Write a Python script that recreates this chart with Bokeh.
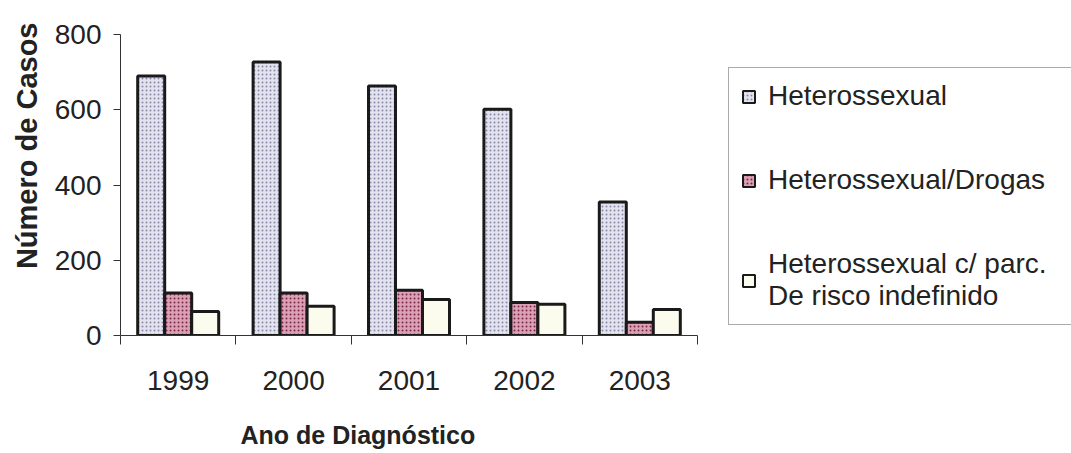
from bokeh.plotting import figure
from bokeh.layouts import row
from bokeh.models import (Range1d, FixedTicker, LinearAxis, Title, Legend, LegendItem,
                          ColumnDataSource)
from bokeh.embed import file_html
from bokeh.resources import INLINE

# Casos por ano de diagnóstico e categoria de exposição
anos = ["1999", "2000", "2001", "2002", "2003"]
heterossexual = [690, 727, 663, 601, 355]
hetero_drogas = [113, 113, 120, 88, 35]
hetero_indefinido = [64, 78, 96, 83, 69]

series_nomes = ["Heterossexual", "Heterossexual/Drogas",
                "Heterossexual c/ parc.\nDe risco indefinido"]
y_ticks = [0, 200, 400, 600, 800]

FONT = "Liberation Sans"
H = 453
CHART_W, LEGEND_W = 710, 361
FRAME_L, FRAME_R, FRAME_T, FRAME_B = 120, 697, 34, 335

p = figure(width=CHART_W, height=H, output_backend="svg", toolbar_location=None,
           x_range=Range1d(0, len(anos)), y_range=Range1d(0, 800),
           min_border_left=FRAME_L, min_border_right=CHART_W - FRAME_R,
           min_border_top=FRAME_T, min_border_bottom=H - FRAME_B)
p.outline_line_color = None
p.xgrid.visible = False
p.ygrid.visible = False
p.background_fill_color = "white"
p.border_fill_color = "white"

bar_w = 0.234
centers = [i + 0.5 for i in range(len(anos))]

styles = [
    dict(fill_color="#e2e3ee", hatch_pattern="dot", hatch_color="#8a8aa8",
         hatch_scale=4, hatch_weight=1),
    dict(fill_color="#dca0b4", hatch_pattern="dot", hatch_color="#7a2848",
         hatch_scale=4, hatch_weight=1.2),
    dict(fill_color="#fcfcee"),
]
valores = [heterossexual, hetero_drogas, hetero_indefinido]
offsets = [-bar_w, 0.0, bar_w]

for vals, off, st in zip(valores, offsets, styles):
    src = ColumnDataSource(dict(x=[c + off for c in centers], top=vals))
    p.vbar(x="x", top="top", bottom=0, width=bar_w, source=src,
           line_color="#1a1a1a", line_width=3, **st)

# eixo Y
p.yaxis.ticker = FixedTicker(ticks=y_ticks)
p.yaxis.major_tick_out = 7
p.yaxis.major_tick_in = 0
p.yaxis.minor_tick_line_color = None
p.yaxis.axis_line_color = "#333333"
p.yaxis.major_tick_line_color = "#333333"
p.yaxis.major_label_text_font = FONT
p.yaxis.major_label_text_font_size = "28px"
p.yaxis.major_label_text_color = "#222222"
p.yaxis.major_label_standoff = 12

# eixo X: rótulos no centro de cada ano, marcas nas divisões
p.xaxis.ticker = FixedTicker(ticks=centers, minor_ticks=list(range(len(anos) + 1)))
p.xaxis.major_label_overrides = {c: a for c, a in zip(centers, anos)}
p.xaxis.major_tick_line_color = None
p.xaxis.minor_tick_out = 9
p.xaxis.minor_tick_in = 0
p.xaxis.minor_tick_line_color = "#333333"
p.xaxis.axis_line_color = "#333333"
p.xaxis.major_label_text_font = FONT
p.xaxis.major_label_text_font_size = "28px"
p.xaxis.major_label_text_color = "#222222"
p.xaxis.major_label_standoff = 26


def espacador(tamanho, pos):
    """Eixo em branco, sem linha nem rótulo, que só reserva espaço no painel."""
    return LinearAxis(ticker=FixedTicker(ticks=[pos]), major_label_overrides={pos: ""},
                      axis_line_color=None, major_tick_line_color="white",
                      minor_tick_line_color=None, major_tick_out=tamanho,
                      major_tick_in=0, minor_tick_out=0, major_label_standoff=0,
                      major_label_text_font_size="1px")


p.add_layout(espacador(8, 400), "left")
p.add_layout(espacador(26, 2.5), "below")

# títulos dos eixos
p.add_layout(Title(text="Número de Casos", align="right", offset=-12, standoff=2,
                   text_font=FONT, text_font_style="bold", text_font_size="29px",
                   text_color="#222222"), "left")
p.add_layout(Title(text="Ano de Diagnóstico", align="left", offset=120, standoff=0,
                   text_font=FONT, text_font_style="bold", text_font_size="25px",
                   text_color="#222222"), "below")

# legenda em painel próprio, à direita do gráfico
leg = figure(width=LEGEND_W, height=H, output_backend="svg", toolbar_location=None,
             x_range=Range1d(0, 1), y_range=Range1d(0, 1),
             x_axis_location=None, y_axis_location=None,
             min_border=0, min_border_left=0, min_border_right=0,
             min_border_top=0, min_border_bottom=0)
leg.outline_line_color = None
leg.xgrid.visible = False
leg.ygrid.visible = False
leg.border_fill_color = "white"

# amostras da legenda: barras de altura nula, escondidas sob o quadro da legenda
amostras = []
for st in styles:
    nula = ColumnDataSource(dict(x=[0.5], top=[0.5]))
    amostras.append(leg.vbar(x="x", top="top", bottom=0.5, width=0.0, source=nula,
                             line_color="#1a1a1a", line_width=2, **st))

legend = Legend(
    items=[LegendItem(label=n, renderers=[r]) for n, r in zip(series_nomes, amostras)],
    location=(18, 10), orientation="vertical",
    label_text_font=FONT, label_text_font_size="28px", label_text_color="#222222",
    glyph_width=15, glyph_height=15, label_standoff=12, label_width=330,
    padding=12, spacing=52, margin=0,
    border_line_color="#555555", border_line_width=1,
    background_fill_color="white", background_fill_alpha=1.0,
)
leg.add_layout(legend, "center")

layout = row(p, leg, spacing=0)
open("out.html", "w").write(file_html(layout, INLINE))
